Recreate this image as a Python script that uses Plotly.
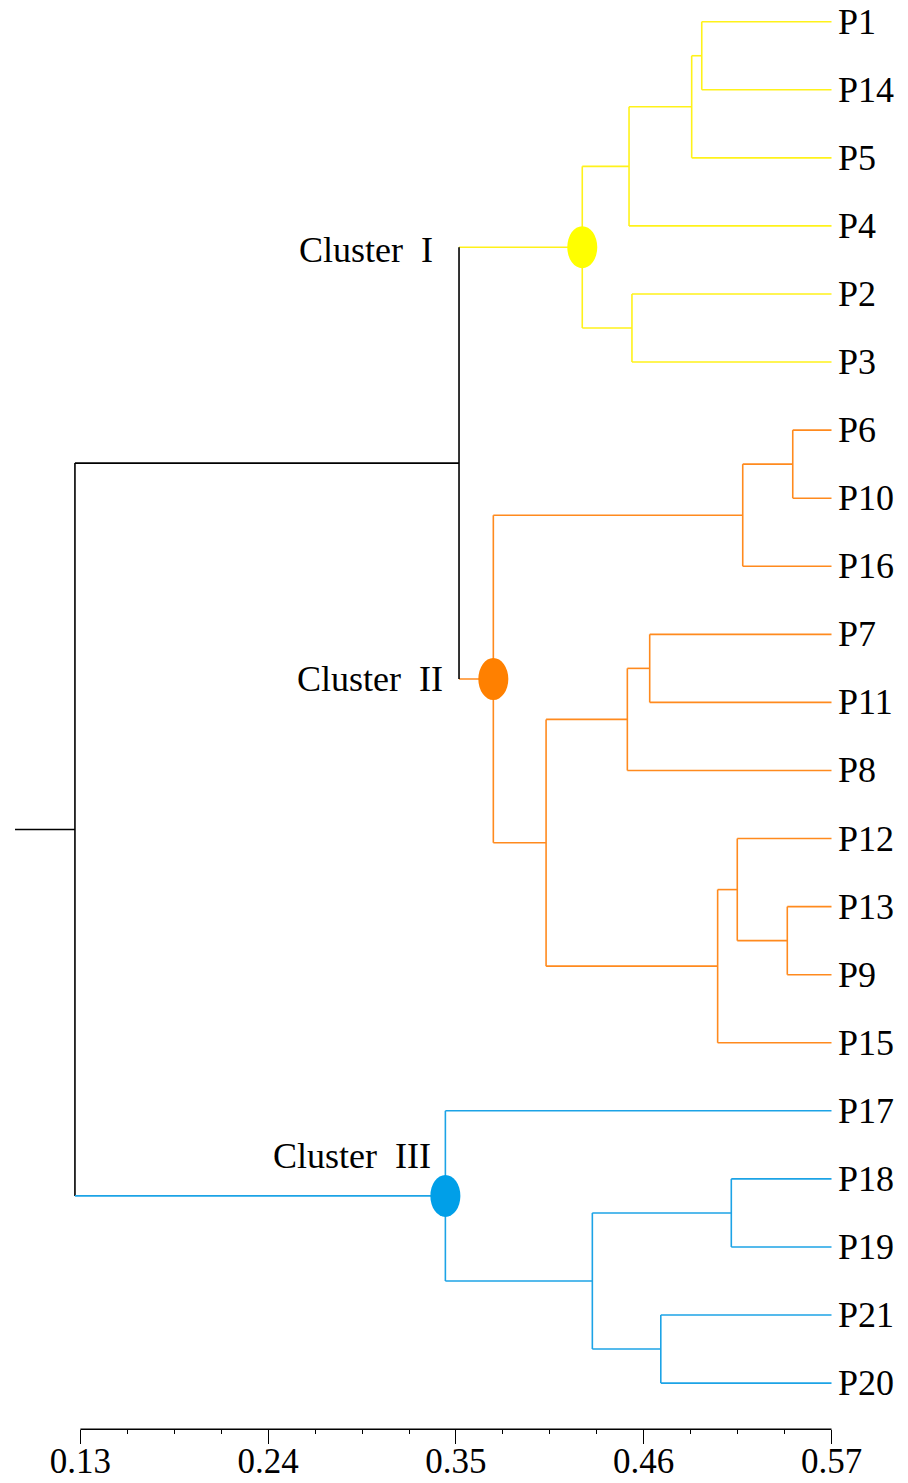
import plotly.graph_objects as go

# Leaf order, top to bottom
leaves = ["P1", "P14", "P5", "P4", "P2", "P3",
          "P6", "P10", "P16", "P7", "P11", "P8", "P12", "P13", "P9", "P15",
          "P17", "P18", "P19", "P21", "P20"]

# Merge steps: (name, left child, right child, distance)
merge_names = ["a", "b", "c", "d", "CI",
               "e", "f", "g", "h", "i", "j", "k", "l", "CII",
               "m",
               "n", "o", "p", "CIII",
               "root"]
merge_left = ["P1", "a", "b", "P2", "c",
              "P6", "e", "P7", "g", "P13", "P12", "j", "h", "f",
              "CI",
              "P18", "P21", "n", "P17",
              "m"]
merge_right = ["P14", "P5", "P4", "P3", "d",
               "P10", "P16", "P11", "P8", "P9", "i", "P15", "k", "l",
               "CII",
               "P19", "P20", "o", "p",
               "CIII"]
merge_dist = [0.4940, 0.4881, 0.4514, 0.4531, 0.4240,
              0.5473, 0.5180, 0.4635, 0.4504, 0.5441, 0.5148, 0.5033, 0.4028, 0.3719,
              0.3518,
              0.5113, 0.4700, 0.4299, 0.3438,
              0.1268]
leaf_dist = 0.57
root_stub = 0.0917

# Clusters
cluster_roots = ["CI", "CII", "CIII"]
cluster_labels = ["Cluster\u00a0\u00a0I", "Cluster\u00a0\u00a0II", "Cluster\u00a0\u00a0III"]
cluster_colors = ["#FFFF00", "#FF8000", "#009FE8"]
cluster_line_colors = ["#FFF21A", "#FF8A1E", "#1CA3E6"]

# Axis ticks
tick_vals = [0.13, 0.24, 0.35, 0.46, 0.57]
tick_text = ["0.13", "0.24", "0.35", "0.46", "0.57"]
minor_step = 0.0275

# ---- node coordinates ----
pos = {}
for k, name in enumerate(leaves):
    pos[name] = (leaf_dist, k)
children = {}
for name, l, r, d in zip(merge_names, merge_left, merge_right, merge_dist):
    pos[name] = (d, (pos[l][1] + pos[r][1]) / 2)
    children[name] = (l, r)

# node -> colour (descendants of a cluster root take its colour)
node_color = {}
def paint(node, col):
    node_color[node] = col
    if node in children:
        for c in children[node]:
            paint(c, col)
paint("root", "black")
for cr, col in zip(cluster_roots, cluster_line_colors):
    paint(cr, col)

# ---- collect segments per colour ----
segs = {}
def add(col, xs, ys):
    sx, sy = segs.setdefault(col, ([], []))
    sx.extend(xs + [None])
    sy.extend(ys + [None])

for name in merge_names:
    l, r = children[name]
    xp = pos[name][0]
    yl, yr = pos[l][1], pos[r][1]
    add(node_color[name], [xp, xp], [yl, yr])
    add(node_color[l], [xp, pos[l][0]], [yl, yl])
    add(node_color[r], [xp, pos[r][0]], [yr, yr])
add("black", [root_stub, pos["root"][0]], [pos["root"][1], pos["root"][1]])

# ---- page geometry ----
W, H = 908, 1483
px0, px1 = 80.4, 831.5          # pixel positions of 0.13 and 0.57
scale = (px1 - px0) / (tick_vals[-1] - tick_vals[0])
x_lo = tick_vals[0] - px0 / scale
x_hi = tick_vals[0] + (W - px0) / scale
row0, row_h = 21.7, 68.07
y_top = -row0 / row_h
y_bot = (H - row0) / row_h
axis_y_px = 1429.3
axis_y = (axis_y_px - row0) / row_h

fig = go.Figure()
for col, (sx, sy) in segs.items():
    fig.add_trace(go.Scatter(x=sx, y=sy, mode="lines",
                             line=dict(color=col, width=1.6),
                             hoverinfo="skip", showlegend=False))

# scale bar line between the first and last tick
fig.add_trace(go.Scatter(x=[tick_vals[0], tick_vals[-1]], y=[axis_y, axis_y],
                         mode="lines", line=dict(color="black", width=1.4),
                         hoverinfo="skip", showlegend=False))

serif = "Liberation Serif, Times New Roman, serif"

# cluster node ellipses
for cr, col in zip(cluster_roots, cluster_colors):
    x, y = pos[cr]
    fig.add_shape(type="circle", xref="x", yref="y",
                  xsizemode="pixel", ysizemode="pixel",
                  xanchor=x, yanchor=y, x0=-15, x1=15, y0=-21, y1=21,
                  fillcolor=col, line=dict(width=0), layer="above")

# cluster labels
label_anchor = [("m", -24, -3), ("m", -14, 0), ("CIII", -12, 40)]
for (node, xs, ys), cr, txt in zip(label_anchor, cluster_roots, cluster_labels):
    fig.add_annotation(x=pos[node][0], y=pos[cr][1], text=txt,
                       xanchor="right", yanchor="middle",
                       xshift=xs, yshift=ys, showarrow=False,
                       font=dict(family=serif, size=36, color="black"))

# leaf labels
for name in leaves:
    x, y = pos[name]
    fig.add_annotation(x=x, y=y, text=name, xanchor="left", yanchor="middle",
                       xshift=4, showarrow=False,
                       font=dict(family=serif, size=36, color="black"))

n_minor = int(round((tick_vals[-1] - tick_vals[0]) / minor_step))
minor_vals = [round(tick_vals[0] + k * minor_step, 4) for k in range(n_minor + 1)]

fig.update_layout(
    width=W, height=H,
    margin=dict(l=0, r=0, t=0, b=0, autoexpand=False),
    paper_bgcolor="white", plot_bgcolor="white",
    showlegend=False,
    xaxis=dict(domain=[0, 1], range=[x_lo, x_hi],
               anchor="free", position=1 - axis_y_px / H,
               automargin=False,
               showline=False, showgrid=False, zeroline=False,
               tickmode="array", tickvals=tick_vals, ticktext=tick_text,
               ticks="outside", ticklen=14, tickwidth=1.4, tickcolor="black",
               ticklabelstandoff=-13,
               tickfont=dict(family=serif, size=35, color="black"),
               minor=dict(tickmode="array", tickvals=minor_vals,
                          ticks="outside", ticklen=4, tickwidth=1.2,
                          tickcolor="black", showgrid=False)),
    yaxis=dict(domain=[0, 1], range=[y_bot, y_top], visible=False,
               automargin=False),
)

fig.write_html("out.html")
